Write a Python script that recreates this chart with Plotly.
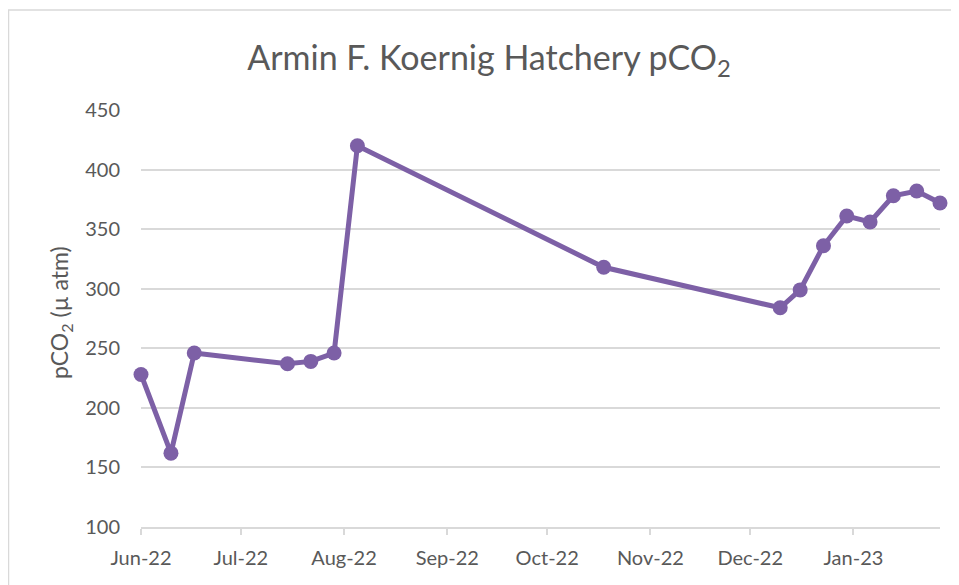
import plotly.graph_objects as go

dates = ["2022-06-01", "2022-06-10", "2022-06-17", "2022-07-15", "2022-07-22",
         "2022-07-29", "2022-08-05", "2022-10-18", "2022-12-10", "2022-12-16",
         "2022-12-23", "2022-12-30", "2023-01-06", "2023-01-13", "2023-01-20",
         "2023-01-27"]
pco2 = [228, 162, 246, 237, 239, 246, 420, 318, 284, 299, 336, 361, 356, 378, 382, 372]

title_text = "Armin F. Koernig Hatchery pCO<sub>2</sub>"
y_title = "pCO<sub>2</sub> (µ atm)"

purple = "#7D60A6"
grid = "#D9D9D9"
txt = "#595959"
FONT = "Lato, 'Open Sans', sans-serif"

fig = go.Figure()
fig.add_trace(go.Scatter(
    x=dates, y=pco2, mode="lines+markers",
    line=dict(color=purple, width=5),
    marker=dict(color=purple, size=15),
    cliponaxis=False, showlegend=False,
))

# page body has an 8px margin, so the figure starts at (8, 8)
OFF = 8
W, H = 959 - OFF, 585 - OFF
L, R, T, B = 141 - OFF, 19, 110 - OFF, 58
pw, ph = W - L - R, H - T - B

def px_x(p):
    return (p - OFF - L) / pw

def px_y(p):
    return (H - B - (p - OFF)) / ph

fig.update_layout(
    width=W, height=H,
    margin=dict(l=L, r=R, t=T, b=B),
    paper_bgcolor="white", plot_bgcolor="white",
    font=dict(family=FONT, color=txt, size=20),
    title=dict(text=title_text, x=(489 - OFF) / W, xanchor="center",
               y=1 - (58 - OFF) / H, yanchor="middle",
               font=dict(size=34, color=txt, family=FONT)),
    xaxis=dict(
        type="date", range=["2022-06-01", "2023-01-27"],
        tick0="2022-06-01", dtick="M1", tickformat="%b-%y",
        showgrid=False, showline=True, linecolor=grid, linewidth=1.5,
        ticks="outside", ticklen=6, tickcolor=grid, tickwidth=1.5,
        ticklabelstandoff=6, zeroline=False,
        tickfont=dict(size=20, color=txt),
    ),
    yaxis=dict(
        range=[100, 450], dtick=50, tick0=100,
        showgrid=True, gridcolor=grid, gridwidth=1.5,
        showline=False, zeroline=False, ticks="",
        ticklabelstandoff=20,
        tickfont=dict(size=20, color=txt),
    ),
    annotations=[
        dict(text=y_title, xref="paper", yref="paper",
             x=px_x(60), y=px_y(313), xanchor="center", yanchor="middle",
             textangle=-90, showarrow=False,
             font=dict(size=23, color=txt, family=FONT)),
    ],
    shapes=[
        dict(type="line", xref="paper", yref="paper",
             x0=px_x(8), x1=px_x(980), y0=px_y(10), y1=px_y(10),
             line=dict(color=grid, width=1.5)),
        dict(type="line", xref="paper", yref="paper",
             x0=px_x(8.5), x1=px_x(8.5), y0=px_y(10), y1=px_y(600),
             line=dict(color=grid, width=1.5)),
    ],
)

fig.write_html("out.html")
